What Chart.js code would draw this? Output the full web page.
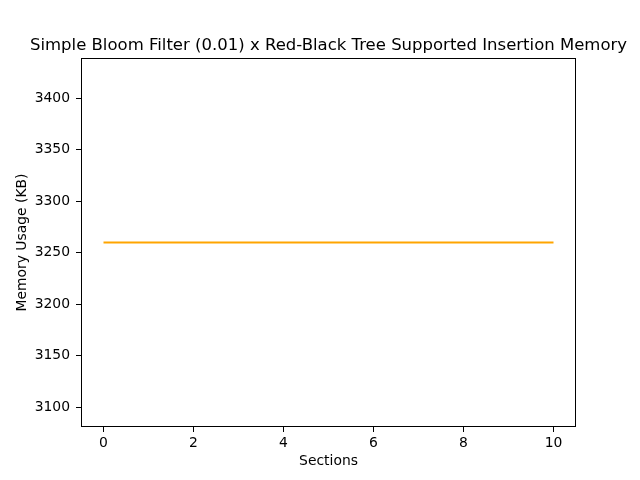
<!DOCTYPE html>
<html>
<head>
<meta charset="utf-8">
<script src="https://cdn.jsdelivr.net/npm/chart.js@4/dist/chart.umd.min.js"></script>
<style>
  html, body { margin: 0; padding: 0; background: #fff; }
  canvas { display: block; }
</style>
</head>
<body>
<canvas id="myChart" width="640" height="480"></canvas>
<script>
// data
const sections = [0, 1, 2, 3, 4, 5, 6, 7, 8, 9, 10];
const memoryKB = [3260, 3260, 3260, 3260, 3260, 3260, 3260, 3260, 3260, 3260, 3260];
const xTicks = [0, 2, 4, 6, 8, 10];
const yTicks = [3100, 3150, 3200, 3250, 3300, 3350, 3400];

const titleText = "Simple Bloom Filter (0.01) x Red-Black Tree Supported Insertion Memory";
const FONT = "'DejaVu Sans', sans-serif";

// frame round the plot + title centred on the axes
const framePlugin = {
  id: "frame",
  afterDraw(chart) {
    const { ctx, chartArea: a } = chart;
    ctx.save();
    ctx.strokeStyle = "#000";
    ctx.lineWidth = 1;
    ctx.strokeRect(a.left + 0.5, a.top + 0.5, a.right - a.left - 1, a.bottom - a.top - 1);
    ctx.fillStyle = "#000";
    ctx.font = "16.5px " + FONT;
    ctx.textAlign = "center";
    ctx.textBaseline = "alphabetic";
    ctx.fillText(titleText, (a.left + a.right) / 2, a.top - 8.3);
    ctx.restore();
  }
};

const ctx = document.getElementById("myChart");

new Chart(ctx, {
  type: "line",
  data: {
    datasets: [
      {
        data: sections.map((s, i) => ({ x: s, y: memoryKB[i] })),
        borderColor: "#ffa500",
        borderWidth: 2,
        pointRadius: 0,
        fill: false,
        tension: 0,
      },
    ],
  },
  options: {
    responsive: false,
    animation: false,
    devicePixelRatio: 1,
    layout: { padding: { top: 58, right: 64, bottom: 0, left: 0 } },
    plugins: {
      legend: { display: false },
      title: { display: false },
      tooltip: { enabled: false },
    },
    scales: {
      x: {
        type: "linear",
        min: -0.5,
        max: 10.5,
        afterBuildTicks: (s) => { s.ticks = xTicks.map((v) => ({ value: v })); },
        afterFit: (s) => { s.height = 53; },
        grid: { drawOnChartArea: false, drawTicks: true, tickLength: 5, tickColor: "#000" },
        border: { display: false },
        ticks: { color: "#000", font: { family: FONT, size: 13.9 }, padding: 3, maxRotation: 0, callback: (v) => String(v) },
        title: {
          display: true,
          text: "Sections",
          color: "#000",
          font: { family: FONT, size: 13.9 },
          padding: { top: 0, bottom: 10 },
        },
      },
      y: {
        type: "linear",
        min: 3080.7,
        max: 3439.3,
        afterBuildTicks: (s) => { s.ticks = yTicks.map((v) => ({ value: v })); },
        afterFit: (s) => { s.width = 81; },
        grid: { drawOnChartArea: false, drawTicks: true, tickLength: 5, tickColor: "#000" },
        border: { display: false },
        ticks: { color: "#000", font: { family: FONT, size: 13.9 }, padding: 6, callback: (v) => String(v) },
        title: {
          display: true,
          text: "Memory Usage (KB)",
          color: "#000",
          font: { family: FONT, size: 13.9 },
          padding: { top: 14, bottom: 0 },
        },
      },
    },
  },
  plugins: [framePlugin],
});
</script>
</body>
</html>
